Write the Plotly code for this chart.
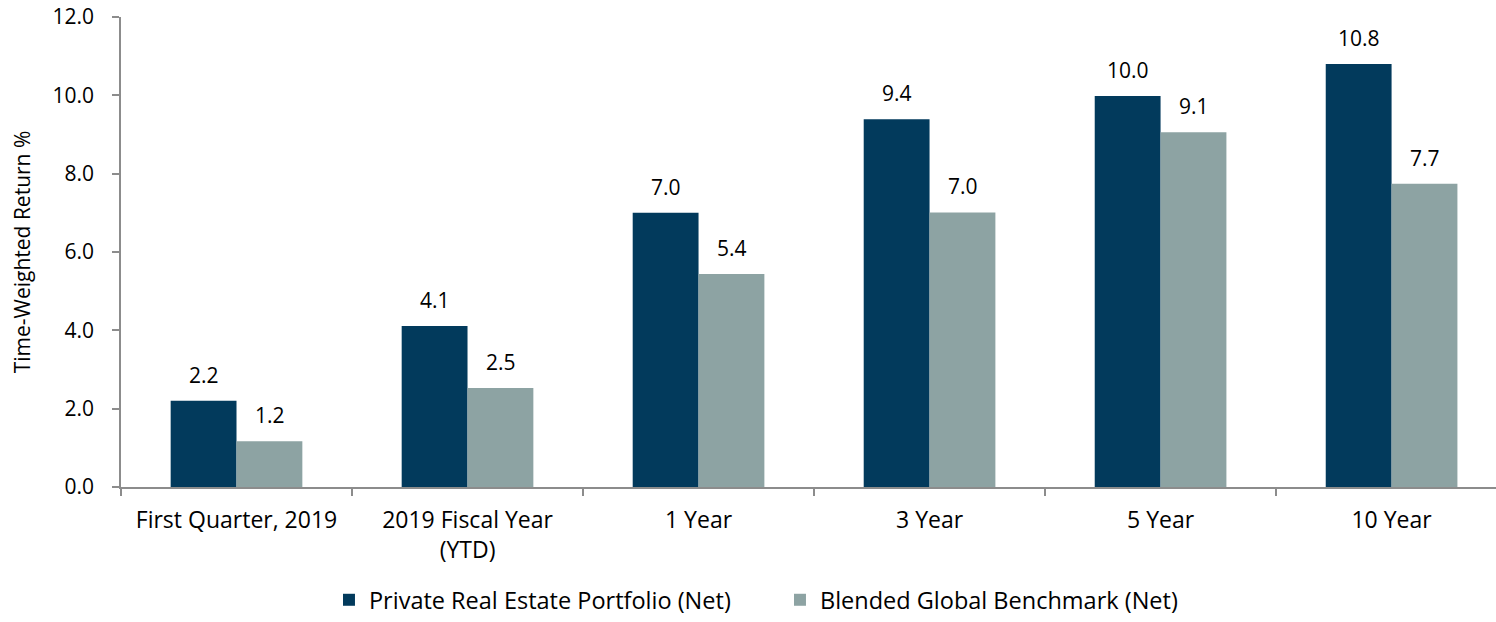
import plotly.graph_objects as go

categories = ["First Quarter, 2019", "2019 Fiscal Year<br>(YTD)", "1 Year", "3 Year", "5 Year", "10 Year"]
portfolio = [2.2, 4.11, 7.0, 9.39, 9.98, 10.8]
benchmark = [1.17, 2.53, 5.44, 7.01, 9.06, 7.74]
series_names = ["Private Real Estate Portfolio (Net)", "Blended Global Benchmark (Net)"]
colors = ["#023A5C", "#8DA3A3"]
y_ticks = [0, 2, 4, 6, 8, 10, 12]

FONT = "Open Sans"
FS = 21
fig = go.Figure()
for name, vals, col in zip(series_names, [portfolio, benchmark], colors):
    fig.add_trace(go.Bar(x=categories, y=vals, name=name, marker=dict(color=col, line=dict(width=0))))

annotations = []
for vals, shift in [(portfolio, -33), (benchmark, 33)]:
    for c, v in zip(categories, vals):
        annotations.append(dict(x=c, y=v, text=f"{v:.1f}", showarrow=False, xshift=shift,
                                yanchor="bottom", yshift=10, font=dict(family=FONT, size=FS, color="#000")))

fig.update_layout(
    width=1496, height=622,
    margin=dict(l=121, r=0, t=17, b=135, autoexpand=False),
    paper_bgcolor="white", plot_bgcolor="white",
    barmode="group", bargap=0.43, bargroupgap=0,
    font=dict(family=FONT, size=FS, color="#000"),
    annotations=annotations,
    showlegend=True,
    legend=dict(orientation="h", x=0.2199, xanchor="left", xref="container", y=0.0, yanchor="bottom",
                yref="container", font=dict(size=23.5), traceorder="normal",
                entrywidthmode="pixels", entrywidth=406),
    xaxis=dict(range=[-0.5, 5.452], showline=True, linecolor="#8C8C8C", linewidth=1.5, automargin=False,
               ticks="outside", tickson="boundaries", ticklen=7, tickcolor="#8C8C8C", tickwidth=1.5,
               showgrid=False, ticklabelstandoff=12, tickfont=dict(size=23)),
    yaxis=dict(range=[0, 12], tickvals=y_ticks, tickformat=".1f", showline=True, linecolor="#8C8C8C",
               linewidth=1.5, ticks="outside", ticklen=7, tickcolor="#8C8C8C", tickwidth=1.5, automargin=False,
               showgrid=False, zeroline=False, tickfont=dict(size=FS), ticklabelstandoff=14,
               ticklabeloverflow="allow",
               title=dict(text="Time-Weighted Return %", font=dict(size=FS), standoff=16)),
)
fig.write_html("out.html", config={"displayModeBar": False},
               post_script="document.body.style.margin='0';")
